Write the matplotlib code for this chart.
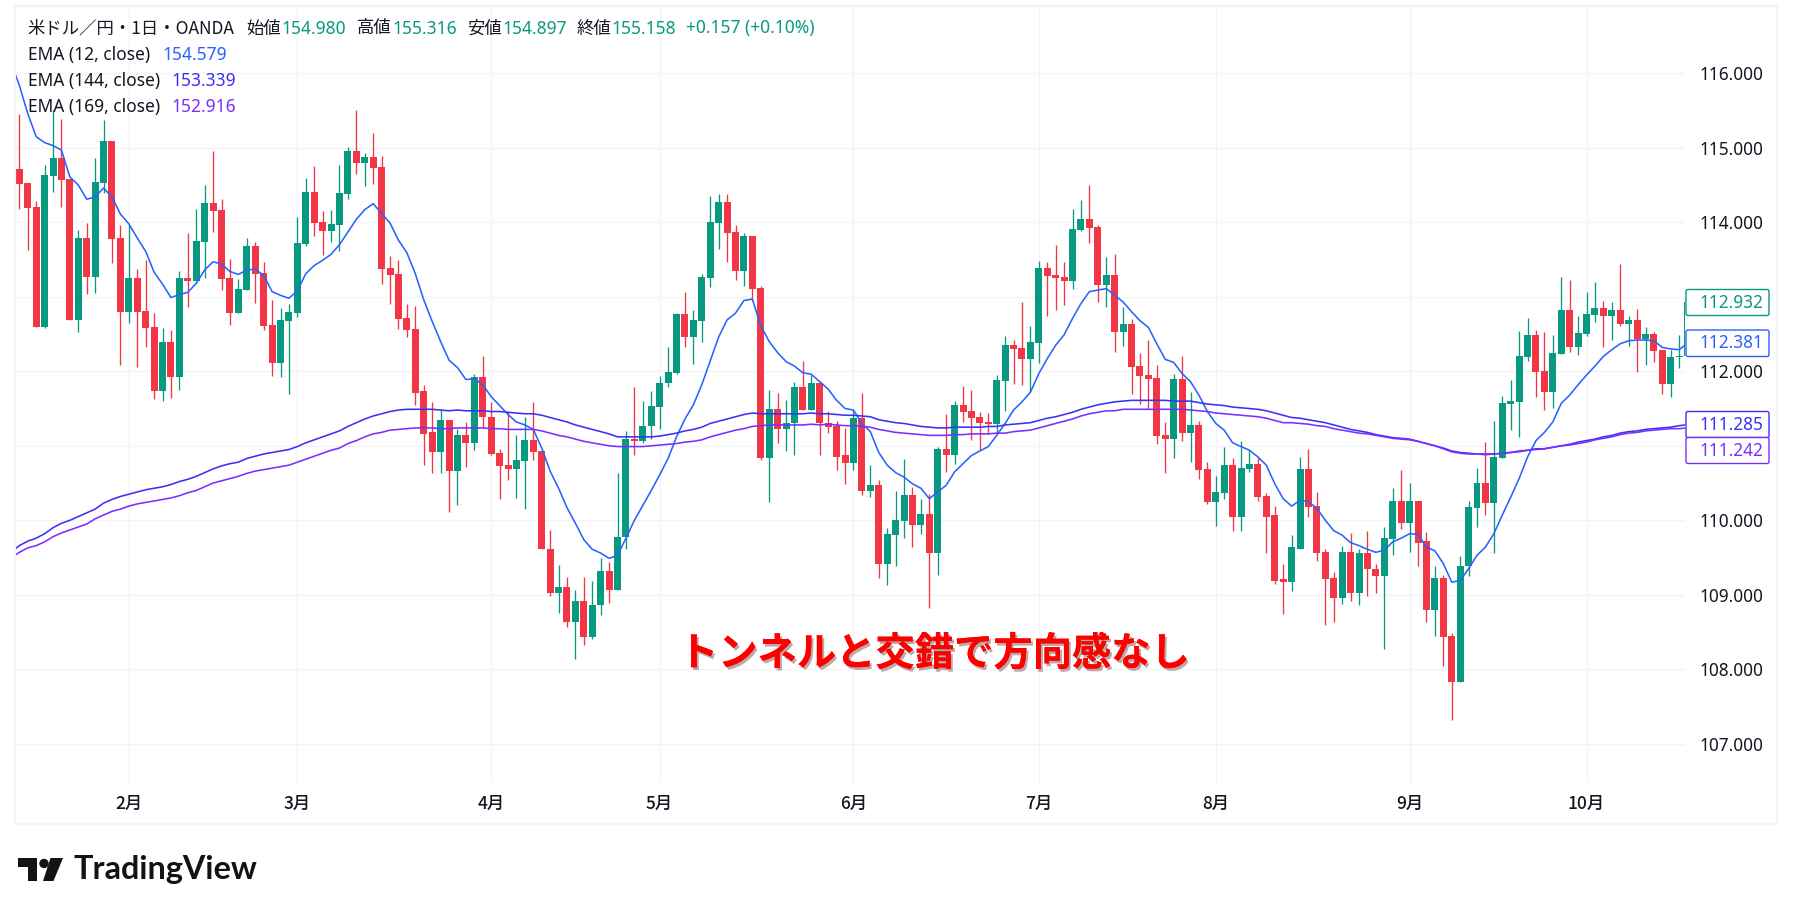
import numpy as np
import matplotlib
matplotlib.use("Agg")
import matplotlib.pyplot as plt
import matplotlib.patheffects as pe
from matplotlib.patches import Rectangle, FancyBboxPatch, Circle, Polygon

W, H = 1793, 915
JP = ['Noto Sans CJK JP', 'DejaVu Sans']
LAT = ['Noto Sans', 'Noto Sans CJK JP', 'DejaVu Sans']
plt.rcParams['font.family'] = JP

open_ = [114.72,114.53,114.21,112.60,114.62,114.86,114.58,112.69,113.79,113.27,
114.53,115.09,113.79,112.80,113.25,112.81,112.60,111.74,112.39,111.92,
113.25,113.21,113.74,114.26,114.17,113.25,112.78,113.09,113.68,113.32,
112.62,112.11,112.68,112.78,113.71,114.41,114.00,113.88,113.96,114.38,
114.96,114.80,114.88,114.74,113.39,113.31,112.71,112.57,111.73,111.18,
110.92,111.34,110.66,111.15,111.04,111.93,111.39,110.90,110.74,110.69,
110.80,111.08,110.93,109.62,109.02,109.11,108.64,108.92,108.43,108.86,
109.32,109.07,109.77,111.09,111.06,111.26,111.52,111.84,111.98,112.77,
112.46,112.68,113.25,113.99,114.27,113.87,113.34,113.81,113.12,110.83,
111.50,111.23,111.30,111.79,111.48,111.84,111.30,111.27,110.87,110.77,
111.37,110.39,110.47,109.41,109.80,109.99,110.34,109.94,110.08,109.56,
110.96,110.87,111.55,111.47,111.38,111.32,111.29,111.87,112.35,112.31,
112.16,112.38,113.39,113.29,113.27,113.21,113.90,114.05,113.94,113.16,
113.29,112.53,112.63,112.07,111.95,111.91,111.14,111.09,111.90,111.17,
111.28,110.69,110.24,110.36,110.74,110.04,110.69,110.75,110.32,110.07,
109.21,109.17,109.62,110.69,110.19,109.57,109.22,108.96,109.57,109.03,
109.56,109.35,109.25,109.75,110.26,109.96,110.26,109.72,108.80,109.22,
108.45,107.83,109.38,110.16,110.50,110.23,110.83,111.56,111.59,112.19,
112.49,112.00,111.72,112.23,112.82,112.33,112.50,112.76,112.85,112.74,
112.82,112.64,112.69,112.44,112.50,112.29,111.83,112.19,112.21]

high = [115.45,114.53,114.29,114.77,115.51,115.39,114.58,113.90,113.99,114.86,
115.37,115.09,113.96,113.96,113.37,113.49,112.78,112.58,112.55,113.35,
113.86,114.18,114.50,114.96,114.31,113.51,113.24,113.79,113.74,113.47,
112.96,112.85,112.90,114.07,114.59,114.76,114.15,114.17,114.77,115.01,
115.51,114.93,115.20,114.89,113.55,113.49,112.90,112.88,111.81,111.59,
111.49,111.34,111.22,111.32,111.96,112.21,111.59,110.96,111.46,111.15,
111.38,111.59,110.93,109.87,109.40,109.24,109.06,109.24,109.19,109.50,
109.44,110.64,111.20,111.79,111.60,111.73,111.94,112.32,112.78,113.06,
112.82,113.31,114.35,114.38,114.38,113.97,113.86,113.81,113.14,111.75,
111.71,111.62,111.85,112.14,111.95,111.86,111.47,111.33,111.24,111.48,
111.71,110.74,110.54,109.89,110.39,110.82,110.45,110.28,110.35,110.98,
111.43,111.60,111.80,111.75,111.45,111.44,111.95,112.47,112.42,112.93,
112.61,113.48,113.47,113.69,113.47,114.18,114.30,114.50,113.96,113.53,
113.57,112.86,112.70,112.24,112.42,112.08,111.32,111.96,112.20,111.72,
111.33,110.78,110.59,110.99,110.83,111.06,110.94,110.83,110.36,110.19,
109.41,109.80,110.85,110.96,110.38,109.61,109.30,109.66,109.83,109.61,
109.85,109.42,109.91,110.44,110.67,110.50,110.26,109.84,109.39,109.26,
108.49,109.52,110.26,110.70,111.05,111.33,111.67,111.88,112.54,112.72,
112.56,112.53,112.49,113.27,113.22,112.74,113.07,113.20,112.95,112.93,
113.44,112.74,112.84,112.60,112.53,112.29,112.29,112.49,112.932]

low = [114.18,113.63,112.60,112.58,114.41,114.21,112.69,112.53,113.04,113.05,
114.39,113.45,112.09,112.65,112.06,112.33,111.63,111.60,111.64,111.75,
112.86,113.21,113.25,113.87,113.09,112.62,112.78,113.09,112.92,112.55,
111.94,111.92,111.70,112.73,113.68,113.82,113.56,113.74,113.61,114.31,
114.65,114.49,114.51,113.17,112.90,112.57,112.46,111.55,110.74,110.64,
110.64,110.11,110.20,110.71,110.95,111.25,110.87,110.28,110.54,110.30,
110.15,110.81,109.61,108.98,108.75,108.57,108.14,108.33,108.40,108.73,
108.89,109.07,109.61,110.88,111.04,111.09,111.22,111.79,111.97,112.32,
112.10,112.40,113.13,113.64,113.47,113.22,113.15,112.95,110.81,110.25,
111.04,110.93,110.88,111.48,111.48,110.88,111.17,110.68,110.49,110.67,
110.34,110.31,109.22,109.13,109.38,109.76,109.64,109.81,108.82,109.27,
110.65,110.75,111.32,111.08,110.95,111.16,111.16,111.47,111.83,111.82,
111.72,112.11,112.74,112.82,112.89,113.10,113.88,113.72,112.93,112.86,
112.26,112.34,111.69,111.56,111.49,111.02,110.63,110.83,111.06,110.78,
110.55,110.22,109.92,110.28,109.85,109.85,110.65,110.26,109.56,109.15,
108.74,109.05,109.61,110.04,109.45,108.60,108.64,108.88,108.92,108.86,
108.99,109.03,108.27,109.54,109.88,109.57,109.38,108.63,108.45,108.05,
107.32,107.83,109.25,109.91,110.07,109.56,110.83,111.21,111.12,112.14,
111.65,111.48,111.51,112.23,112.26,112.22,112.47,112.66,112.33,112.42,
112.61,112.34,111.99,112.09,112.13,111.70,111.65,112.05,112.21]

close = [114.51,114.19,112.60,114.63,114.86,114.57,112.69,113.79,113.27,114.54,
115.09,113.78,112.80,113.25,112.80,112.58,111.74,112.39,111.92,113.25,
113.21,113.75,114.26,114.15,113.24,112.78,113.10,113.68,113.31,112.61,
112.11,112.69,112.80,113.72,114.41,113.99,113.88,113.98,114.39,114.96,
114.80,114.88,114.73,113.37,113.29,112.70,112.55,111.71,111.16,110.92,
111.34,110.66,111.15,111.04,111.93,111.38,110.89,110.73,110.69,110.81,
111.08,110.92,109.61,109.02,109.11,108.64,108.92,108.43,108.86,109.32,
109.07,109.78,111.09,111.06,111.27,111.53,111.84,111.99,112.77,112.46,
112.69,113.26,114.00,114.27,113.86,113.34,113.81,113.11,110.83,111.50,
111.23,111.31,111.79,111.48,111.84,111.30,111.25,110.85,110.77,111.37,
110.39,110.47,109.41,109.81,110.00,110.34,109.94,110.08,109.56,110.96,
110.87,111.55,111.45,111.37,111.30,111.29,111.88,112.35,112.30,112.16,
112.39,113.39,113.28,113.25,113.21,113.91,114.05,113.92,113.16,113.29,
112.53,112.63,112.06,111.94,111.90,111.13,111.09,111.90,111.17,111.28,
110.67,110.24,110.38,110.74,110.04,110.70,110.75,110.31,110.05,109.19,
109.17,109.64,110.69,110.18,109.56,109.21,108.96,109.57,109.03,109.56,
109.34,109.25,109.76,110.26,109.96,110.26,109.70,108.80,109.22,108.44,
107.83,109.39,110.18,110.50,110.23,110.85,111.57,111.60,112.21,112.49,
111.99,111.72,112.25,112.82,112.33,112.52,112.77,112.85,112.74,112.82,
112.64,112.69,112.44,112.50,112.27,111.83,112.19,112.21,112.932]

# EMA series start one bar before the first visible candle
ema12 = [116.15,
115.84,115.46,115.15,115.07,115.03,114.97,114.61,114.50,114.31,114.34,
114.46,114.34,114.11,113.98,113.79,113.61,113.33,113.17,112.99,113.03,
113.06,113.18,113.36,113.47,113.44,113.34,113.30,113.36,113.37,113.29,
113.07,113.02,112.98,113.08,113.31,113.42,113.49,113.57,113.70,113.87,
114.04,114.17,114.25,114.12,113.99,113.76,113.59,113.31,112.96,112.67,
112.40,112.15,112.05,111.89,111.90,111.82,111.66,111.54,111.42,111.32,
111.28,111.22,110.97,110.66,110.43,110.17,109.96,109.74,109.61,109.56,
109.49,109.53,109.76,110.00,110.20,110.40,110.61,110.83,111.12,111.36,
111.55,111.82,112.14,112.46,112.69,112.78,112.95,112.97,112.61,112.40,
112.25,112.13,112.07,111.98,111.96,111.86,111.76,111.61,111.50,111.48,
111.30,111.19,110.91,110.74,110.64,110.58,110.49,110.43,110.29,110.38,
110.47,110.65,110.76,110.87,110.93,110.99,111.14,111.30,111.48,111.59,
111.72,111.97,112.17,112.35,112.49,112.71,112.91,113.07,113.09,113.11,
113.02,112.93,112.80,112.68,112.59,112.37,112.16,112.12,111.97,111.86,
111.68,111.46,111.30,111.21,111.04,110.99,110.94,110.85,110.74,110.49,
110.29,110.19,110.27,110.25,110.16,110.00,109.86,109.80,109.70,109.66,
109.61,109.57,109.60,109.71,109.76,109.82,109.81,109.64,109.59,109.42,
109.17,109.19,109.35,109.53,109.64,109.82,110.07,110.31,110.56,110.85,
111.07,111.18,111.32,111.57,111.68,111.82,111.95,112.07,112.20,112.29,
112.37,112.41,112.42,112.42,112.41,112.32,112.30,112.29,112.381]

ema144 = [109.57,
109.66,109.72,109.76,109.82,109.90,109.96,110.00,110.05,110.10,110.15,
110.23,110.28,110.32,110.35,110.38,110.41,110.43,110.45,110.48,110.52,
110.55,110.59,110.64,110.69,110.73,110.76,110.78,110.83,110.86,110.89,
110.91,110.93,110.95,110.99,111.04,111.08,111.12,111.16,111.20,111.26,
111.31,111.36,111.40,111.43,111.46,111.48,111.49,111.49,111.49,111.49,
111.48,111.47,
111.48,111.47,111.47,111.47,111.46,111.46,111.45,111.44,
111.43,111.43,111.41,111.38,111.35,111.32,111.28,111.25,111.22,111.19,
111.16,111.12,111.12,111.12,111.12,111.12,111.13,111.15,111.17,111.20,
111.22,111.25,111.30,111.33,111.36,111.39,111.42,111.44,111.43,111.43,
111.43,111.43,111.43,111.43,111.44,111.43,111.43,111.42,111.41,
111.41,111.40,111.39,111.35,111.33,111.31,111.30,111.28,111.26,111.25,
111.24,111.24,111.25,111.25,111.25,111.25,111.26,111.26,111.28,111.29,
111.30,111.31,111.34,111.37,111.39,111.42,111.45,111.49,111.52,111.55,
111.57,111.59,111.60,111.61,111.61,111.61,111.61,111.61,111.60,111.60,
111.60,111.58,111.56,111.55,111.54,111.52,111.51,111.50,
111.49,111.47,111.44,111.41,111.38,111.37,111.35,111.33,111.31,111.28,
111.25,111.22,111.20,111.18,111.15,111.13,111.11,111.10,111.09,111.06,
111.03,111.00,110.97,110.93,110.91,110.90,110.89,110.89,110.89,110.90,
110.91,110.93,110.94,110.96,110.96,110.98,111.00,111.02,111.05,111.07,
111.09,111.12,111.14,111.17,111.19,111.20,111.22,111.23,111.24,111.25,
111.27,111.285]

ema169 = [109.49,
109.57,109.63,109.66,109.71,109.78,109.83,109.87,109.91,109.95,110.02,
110.07,110.12,110.15,110.19,110.22,110.24,110.26,110.28,110.30,110.33,
110.37,110.40,110.45,110.50,110.53,110.56,110.59,110.63,110.66,110.68,
110.70,110.72,110.74,110.78,110.82,110.86,110.90,110.94,110.97,111.03,
111.07,111.12,111.16,111.18,111.21,111.22,111.23,111.24,111.24,111.24,
111.23,111.23,
111.24,111.24,111.24,111.24,111.23,111.23,111.22,111.22,
111.22,111.22,111.20,111.17,111.14,111.12,111.09,111.06,111.04,111.02,
111.00,110.99,110.99,110.99,110.99,111.00,111.01,111.02,111.03,111.05,
111.06,111.08,111.12,111.15,111.18,111.21,111.23,111.26,111.27,111.28,
111.28,111.28,111.28,111.28,111.29,111.28,111.29,111.28,111.27,
111.27,111.26,111.25,111.22,111.20,111.18,111.17,111.16,111.15,111.14,
111.14,111.14,111.15,111.15,111.16,111.16,111.16,111.17,111.17,111.19,
111.20,111.21,111.24,111.27,111.30,111.33,111.36,111.40,111.43,111.45,
111.47,111.47,111.49,111.49,111.49,111.49,111.49,111.49,111.49,111.49,
111.48,111.47,111.46,111.44,111.43,111.42,111.41,111.40,
111.39,111.37,111.34,111.31,111.31,111.30,111.29,111.27,111.26,111.23,
111.21,111.19,111.17,111.16,111.14,111.12,111.10,111.09,111.08,111.06,
111.03,111.00,110.96,110.92,110.90,110.89,110.89,110.88,110.89,110.90,
110.91,110.92,110.94,110.95,110.96,110.98,111.00,111.01,111.03,111.05,
111.08,111.10,111.12,111.15,111.17,111.18,111.20,111.21,111.22,111.23,
111.23,111.242]

month_bars = [13, 33, 56, 76, 99, 121, 142, 165, 186]
month_labels = ['2月','3月','4月','5月','6月','7月','8月','9月','10月']
price_ticks = [107, 108, 109, 110, 111, 112, 113, 114, 115, 116]
# 111.000 and 113.000 sit under the price boxes in the reference, so they stay unlabelled
price_labels = ['107.000','108.000','109.000','110.000','','112.000','','114.000','115.000','116.000']

RED, GREEN = '#F23645', '#089981'
C12, C144, C169 = '#2962FF', '#3B30F5', '#7B2FFF'
INK = '#131722'
GRID = '#F2F3F6'

fig = plt.figure(figsize=(W/100, H/100), dpi=100, facecolor='white')
L, R, T, B = 15, 1685, 5, 783
ax = fig.add_axes([L/W, 1-B/H, (R-L)/W, (B-T)/H])
ax.set_xlim((L-19.3)/8.426, (R-19.3)/8.426)
ax.set_ylim(112-(B-371.3)/74.5, 112+(371.3-T)/74.5)

n = len(close)
x = np.arange(n)
o, h, l, c = map(np.array, (open_, high, low, close))
colors = [GREEN if cc >= oo else RED for oo, cc in zip(o, c)]
ax.vlines(x, l, h, colors=colors, lw=0.95, zorder=3)
ax.bar(x, np.abs(c-o), bottom=np.minimum(o, c), width=0.83, color=colors, lw=0, zorder=3)

xe = np.arange(len(ema12)) - 1
ax.plot(xe, ema12, color=C12, lw=1.15, zorder=4)
ax.plot(xe, ema144, color=C144, lw=1.15, zorder=4)
ax.plot(xe, ema169, color=C169, lw=1.15, zorder=4)

ax.set_axisbelow(True)
ax.grid(True, color=GRID, lw=1.0)
ax.set_xticks(month_bars, month_labels, fontsize=12.5, weight='medium', color=INK)
ax.yaxis.tick_right()
ax.set_yticks(price_ticks, price_labels, fontsize=12.4, color=INK, family=LAT)
ax.tick_params(axis='both', length=0)
ax.tick_params(axis='y', pad=10.5)
ax.tick_params(axis='x', pad=8.5)
for s in ax.spines.values():
    s.set_visible(False)

# overlay in pixel coordinates
ov = fig.add_axes([0, 0, 1, 1], zorder=10)
ov.set_xlim(0, W); ov.set_ylim(H, 0); ov.axis('off'); ov.patch.set_alpha(0)
ov.add_patch(Rectangle((15, 5.5), 1762, 818.5, fc='none', ec='#F0F3FA', lw=1.6))

def t(px, py, s, color=INK, size=12.5, fam=LAT, **kw):
    ov.text(px, py, s, color=color, fontsize=size, family=fam, va='center', ha='left', **kw)

t(27.7, 28.5, '米ドル／円・1日・OANDA', fam=JP)
for px, s, col in [(246.6, '始値', INK), (281, '154.980', GREEN), (357, '高値', INK), (392, '155.316', GREEN),
                   (467, '安値', INK), (502, '154.897', GREEN), (576.6, '終値', INK), (611.5, '155.158', GREEN),
                   (686.5, '+0.157 (+0.10%)', GREEN)]:
    t(px, 28.5, s, col, fam=JP if col == INK else LAT)
t(27.7, 55, 'EMA (12, close)'); t(162, 55, '154.579', C12)
t(27.7, 81, 'EMA (144, close)'); t(171.5, 81, '153.339', C144)
t(27.7, 107, 'EMA (169, close)'); t(171.5, 107, '152.916', C169)

for y0, y1, s, col in [(289.5, 315.5, '112.932', GREEN), (330, 356.5, '112.381', C12),
                       (411.5, 437.5, '111.285', C144), (437.5, 463.5, '111.242', C169)]:
    ov.add_patch(FancyBboxPatch((1687, y0+1), 81, y1-y0-2, boxstyle='round,pad=1,rounding_size=2',
                                fc='white', ec=col, lw=1.0))
    t(1699.5, (y0+y1)/2, s, col, size=12.4)

big = ov.text(934, 654, 'トンネルと交錯で方向感なし', color='#FF0000', fontsize=28.3, family=JP,
              weight='bold', va='center', ha='center')
big.set_path_effects([pe.withStroke(linewidth=5, foreground='white'),
                      pe.SimplePatchShadow(offset=(1.5, -2), alpha=0.35),
                      pe.Normal()])

# TradingView mark
ov.add_patch(Polygon([(18, 858), (36.5, 858), (36.5, 881), (27.5, 881), (27.5, 866.5), (18, 866.5)], fc='#131313', ec='none'))
ov.add_patch(Circle((44, 863.5), 4.7, fc='#131313', ec='none'))
ov.add_patch(Polygon([(50.5, 858), (63, 858), (53.5, 881), (43, 881)], fc='#131313', ec='none'))
ov.text(73, 869.5, 'TradingView', color='#131313', fontsize=23.3, family=['Lato', 'DejaVu Sans'], weight='bold', va='center', ha='left')

fig.savefig('out.png', dpi=100)
